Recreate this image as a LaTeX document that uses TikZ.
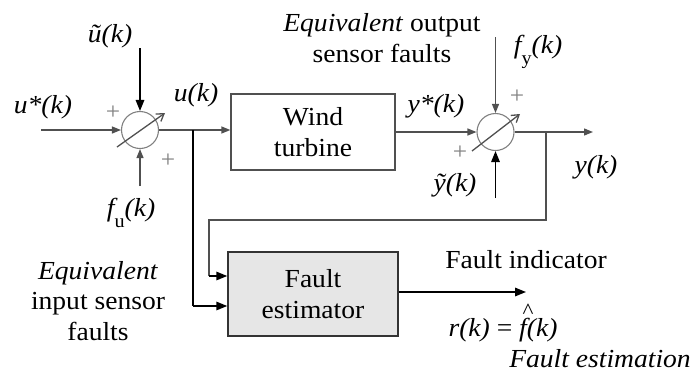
\documentclass[tikz,border=0pt]{standalone}
\usepackage{fontspec}
\setmainfont[FakeStretch=1.06]{Liberation Serif}
\usetikzlibrary{arrows.meta}
\definecolor{linegray}{HTML}{505050}
\definecolor{circgray}{HTML}{808080}
\definecolor{boxfill}{HTML}{E6E6E6}
\begin{document}
\begin{tikzpicture}[x=1pt,y=-1pt,
  every node/.style={font=\fontsize{26}{30.5}\selectfont, inner sep=0pt},
  sig/.style={draw=linegray, line width=1.3pt, -{Triangle[length=9pt,width=7pt]}},
  sigline/.style={draw=linegray, line width=1.3pt},
  bsig/.style={draw=black, line width=1.6pt, -{Triangle[length=11pt,width=8.5pt]}},
  bline/.style={draw=black, line width=1.6pt},
  sumc/.style={circle, draw=circgray, line width=1.1pt, minimum size=37pt, inner sep=0pt},
  diag/.style={draw=linegray, line width=1.3pt, -{Straight Barb[length=7pt,width=9pt]}},
  plus/.style={text=circgray, font=\fontsize{24}{24}\selectfont},
  blockbox/.style={draw=linegray, line width=1.3pt, minimum width=164pt, minimum height=76pt, align=center},
  estbox/.style={draw=black!80, line width=1.5pt, fill=boxfill, minimum width=170pt, minimum height=84pt, align=center},
  lbl/.style={align=center}
]
\useasboundingbox (0,0) rectangle (693,381);

% sum junctions
\node[sumc] (s1) at (140,130) {};
\node[sumc] (s2) at (495.5,132) {};
\draw[diag] ([shift={(-23,17)}]s1.center) -- ([shift={(25,-17)}]s1.center);
\draw[diag] ([shift={(-23.5,19)}]s2.center) -- ([shift={(24.5,-18)}]s2.center);

% blocks
\node[blockbox] (wt) at (313,132) {Wind\\turbine};
\node[estbox] (est) at (313,294) {Fault\\estimator};

% coordinates
\coordinate (ustar) at (41,130);
\coordinate (utilde) at (140,48);
\coordinate (fu) at (140,186);
\coordinate (b1) at (193,130);
\coordinate (b1d) at (193,306);
\coordinate (fy) at (495.5,37);
\coordinate (ytilde) at (495.5,198);
\coordinate (yout) at (593,132);
\coordinate (b2) at (546,132);
\coordinate (b2d) at (546,220);
\coordinate (fbl) at (209,220);
\coordinate (fbd) at (209,276);
\coordinate (rout) at (526,292);

% connectors
\draw[sig] (ustar) -- (s1.west);
\draw[bsig] (utilde) -- (s1.north);
\draw[sig] (fu) -- (s1.south);
\draw[sig] (s1.east) -- (wt.west |- s1.east);
\draw[bline] (b1) |- (b1d);
\draw[bsig] (b1d) -- (est.west |- b1d);
\draw[sig] (wt.east |- s2.west) -- (s2.west);
\draw[sig] (fy) -- (s2.north);
\draw[bsig] (ytilde) -- (s2.south);
\draw[sig] (s2.east) -- (yout);
\draw[sigline] (b2) -- (b2d) -- (fbl) -- (fbd);
\draw[bsig] (fbd) -- (est.west |- fbd);
\draw[bsig] (est.east |- rout) -- (rout);

% plus signs
\node[plus] (p1) at (113,113) {+};
\node[plus] (p2) at (168,161) {+};
\node[plus] (p3) at (517,97) {+};
\node[plus] (p4) at (460,153) {+};

% labels
\node (lutilde) at (110,36) {\textit{\~{u}(k)}};
\node (lustar) at (43,107) {\textit{u*(k)}};
\node (lu) at (196,95) {\textit{u(k)}};
\node (lfu) at (131,213) {\textit{f}\kern-3pt\raisebox{-0.42em}{\fontsize{19}{19}\selectfont u}\textit{(k)}};
\node (lystar) at (436,106) {\textit{y*(k)}};
\node[lbl] (leqo) at (382,38) {\textit{Equivalent} output\\sensor faults};
\node (lfy) at (538,52) {\textit{f}\kern-3pt\raisebox{-0.42em}{\fontsize{19}{19}\selectfont y}\textit{(k)}};
\node (ly) at (596,167) {\textit{y(k)}};
\node (lytilde) at (455,185) {\textit{\~{y}(k)}};
\node[lbl] (leqi) at (98,301) {\textit{Equivalent}\\input sensor\\faults};
\node (lfi) at (526,260) {Fault indicator};
\node (lr) at (503,323) {\textit{r(k)} = \textit{\rlap{\raisebox{0.72em}{\kern3pt\fontsize{22}{22}\selectfont\textasciicircum}}f(k)}};
\node (lfe) at (600,359) {\textit{Fault estimation}};
\end{tikzpicture}
\end{document}
